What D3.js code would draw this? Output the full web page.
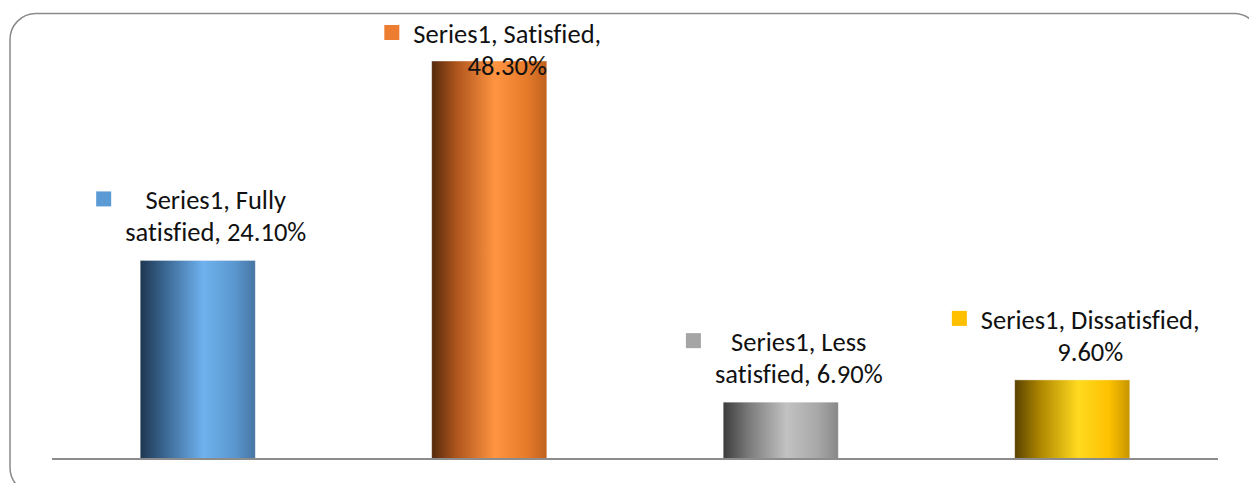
<!DOCTYPE html>
<html>
<head>
<meta charset="utf-8">
<script src="https://cdn.jsdelivr.net/npm/d3@7"></script>
<style>
  html, body { margin: 0; padding: 0; background: #fff; }
  svg { display: block; }
  text { font-family: Carlito, Lato, "Liberation Sans", sans-serif; font-variant-ligatures: none; font-feature-settings: "liga" 0, "clig" 0; }
</style>
</head>
<body>
<svg id="chart" width="1249" height="483"></svg>
<script>
const seriesName = "Series1";
const categories = ["Fully satisfied", "Satisfied", "Less satisfied", "Dissatisfied"];
const values = [24.10, 48.30, 6.90, 9.60];
const labelLines = [
  ["Series1, Fully", "satisfied, 24.10%"],
  ["Series1, Satisfied,", "48.30%"],
  ["Series1, Less", "satisfied, 6.90%"],
  ["Series1, Dissatisfied,", "9.60%"]
];
const keyColors = ["#5b9bd5", "#ed7d31", "#a5a5a5", "#ffc000"];
const gradStops = [
  ["#1e364f", "#3b6894", "#6fb2ee", "#5b97cf", "#4675a3"],
  ["#552a0b", "#b0561e", "#ff9441", "#e77b2b", "#bf611d"],
  ["#3c3c3c", "#7a7a7a", "#c2c2c2", "#a8a8a8", "#878787"],
  ["#5a4200", "#ad8600", "#ffda1f", "#fdc100", "#c69500"]
];
const stopOffsets = [0, 0.22, 0.55, 0.82, 1];

const svg = d3.select("#chart");

// outer rounded frame
svg.append("rect")
  .attr("x", 10).attr("y", 13.5)
  .attr("width", 1250).attr("height", 480)
  .attr("rx", 26).attr("ry", 26)
  .attr("fill", "#fff").attr("stroke", "#8a8a8a").attr("stroke-width", 1.5);

const x0 = 52, x1 = 1218, yBase = 459, yTop = 61;
const x = d3.scaleBand().domain(categories).range([x0, x1]).padding(0);
const y = d3.scaleLinear().domain([0, 48.3]).range([yBase, yTop]);
const barW = x.bandwidth() * 0.395;

const defs = svg.append("defs");
categories.forEach((c, i) => {
  const g = defs.append("linearGradient").attr("id", "g" + i)
    .attr("x1", "0%").attr("x2", "100%").attr("y1", "0%").attr("y2", "0%");
  stopOffsets.forEach((o, j) => g.append("stop").attr("offset", o).attr("stop-color", gradStops[i][j]));
});

svg.append("g").selectAll("rect").data(categories).join("rect")
  .attr("x", (d) => x(d) + x.bandwidth() / 2 - barW / 2)
  .attr("y", (d, i) => y(values[i]))
  .attr("width", barW)
  .attr("height", (d, i) => yBase - y(values[i]))
  .attr("fill", (d, i) => "url(#g" + i + ")")
  .attr("stroke", "rgba(255,255,255,0.5)").attr("stroke-width", 0.8);

// axis
const axis = svg.append("g").attr("transform", `translate(0,${yBase})`)
  .call(d3.axisBottom(x).tickSize(0).tickFormat(""));
axis.select(".domain").attr("stroke", "#8c8c8c").attr("stroke-width", 2.2)
  .attr("d", `M${x0},0H${x1}`);

// labels
const fontSize = 26.5, lineGap = 32;
const lbl = svg.append("g");
categories.forEach((c, i) => {
  const cx = x(c) + x.bandwidth() / 2;
  const tx = cx + 18;
  let base1 = y(values[i]) - 19 - lineGap;
  if (base1 < 43) base1 = 43;
  const g = lbl.append("g");
  let maxW = 0;
  labelLines[i].forEach((t, k) => {
    const el = g.append("text")
      .attr("x", tx).attr("y", base1 + k * lineGap)
      .attr("text-anchor", "middle")
      .attr("font-size", fontSize).attr("fill", "#111")
      .text(t);
    maxW = Math.max(maxW, el.node().getComputedTextLength());
  });
  g.append("rect")
    .attr("x", tx - maxW / 2 - 29).attr("y", base1 - 18)
    .attr("width", 15).attr("height", 15)
    .attr("fill", keyColors[i]);
});
</script>
</body>
</html>
